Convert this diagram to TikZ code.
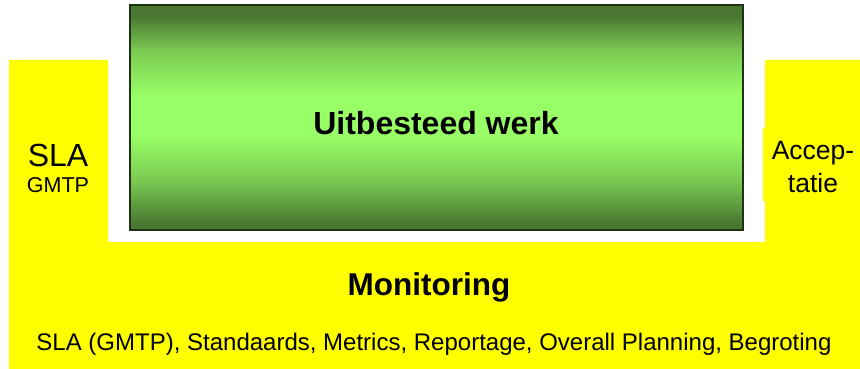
\documentclass[tikz,border=0pt]{standalone}
\usepackage{fontspec}
\setmainfont{Liberation Sans}
\usepackage{tikz}

\definecolor{geel}{RGB}{255,255,0}
\definecolor{donkergroen}{RGB}{74,120,50}
\definecolor{lichtgroen}{RGB}{153,255,102}
\definecolor{rand}{RGB}{30,50,20}

\pgfdeclareverticalshading{werkshade}{100bp}{
  color(0bp)=(donkergroen); color(26.5bp)=(donkergroen);
  color(36bp)=(donkergroen!40!lichtgroen);
  color(46bp)=(lichtgroen); color(55bp)=(lichtgroen);
  color(65bp)=(donkergroen!40!lichtgroen);
  color(72.5bp)=(donkergroen); color(100bp)=(donkergroen)}

\tikzset{
  label/.style={text=black, inner sep=0pt, align=center},
}

\begin{document}
\begin{tikzpicture}[x=1pt,y=-1pt]

	\useasboundingbox (0,0) rectangle (860,369);

	% gele U-vorm
	\fill[geel] (9,60) -- (108,60) -- (108,242) -- (765,242) -- (765,60)
		-- (860,60) -- (860,369) -- (9,369) -- cycle;
	\fill[geel] (763,128) rectangle (860,201);

	% groen blok
	\shade[shading=werkshade] (130,5) rectangle (743,230);
	\draw[rand, line width=1.2pt] (130,5) rectangle (743,230);

	\node[label, font=\fontsize{32}{36}\selectfont\bfseries] (werk) at (436,123) {Uitbesteed werk};
	\node[label, font=\fontsize{32}{36}\selectfont] (sla)  at (58,155) {SLA};
	\node[label, font=\fontsize{21.5}{24}\selectfont] (gmtp) at (58,185) {GMTP};
	\node[label, font=\fontsize{26.5}{33}\selectfont] (acc)  at (813,167) {Accep-\\tatie};
	\node[label, font=\fontsize{31.5}{36}\selectfont\bfseries] (mon) at (429,287) {Monitoring};
	\node[label, font=\fontsize{24}{28}\selectfont] (lijst) at (434,344) {SLA (GMTP), Standaards, Metrics, Reportage, Overall Planning, Begroting};

\end{tikzpicture}
\end{document}
